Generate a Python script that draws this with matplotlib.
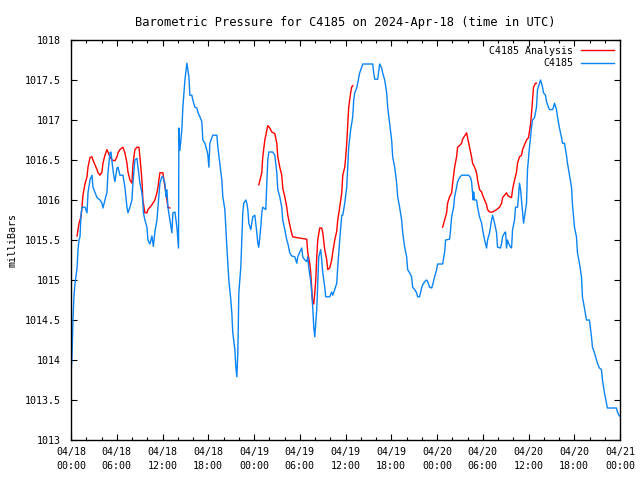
import numpy as np
import matplotlib
matplotlib.use("Agg")
import matplotlib.pyplot as plt
from matplotlib.ticker import MultipleLocator, FuncFormatter
from datetime import datetime, timedelta

# hours since 2024-04-18 00:00 UTC
START = datetime(2024, 4, 18, 0, 0)

# ---- station C4185 observations (hours, mb) ----
obs_hours = [
    0.00, 0.13, 0.26, 0.39, 0.52, 0.79, 0.92, 1.05, 1.18, 1.31, 1.44, 1.84, 2.10, 2.23,
    2.49, 2.75, 2.88, 3.41, 3.80, 4.06, 4.19, 4.45, 4.72, 4.85, 5.11, 5.24, 5.50, 5.63,
    5.76, 6.03, 6.16, 6.42, 6.81, 7.07, 7.34, 7.47, 7.73, 7.99, 8.12, 8.38, 8.65, 8.78,
    9.04, 9.30, 9.43, 9.50, 9.69, 9.96, 10.09, 10.35, 10.61, 10.80, 11.00, 11.27, 11.66,
    11.92, 12.05, 12.32, 12.45, 12.58, 12.71, 12.97, 13.23, 13.36, 13.63, 13.89, 14.02,
    14.10, 14.15, 14.28, 14.54, 14.67, 14.94, 15.20, 15.33, 15.46, 15.59, 15.85, 15.98,
    16.25, 16.51, 16.64, 16.90, 17.16, 17.29, 17.56, 17.82, 17.95, 18.08, 18.21, 18.47,
    18.60, 19.13, 19.26, 19.52, 19.78, 19.91, 20.18, 20.44, 20.57, 20.70, 20.96, 21.09,
    21.22, 21.49, 21.62, 21.75, 21.88, 22.01, 22.27, 22.40, 22.53, 22.66, 22.93, 23.06,
    23.19, 23.32, 23.58, 23.71, 23.84, 24.11, 24.37, 24.50, 24.63, 24.89, 25.02, 25.15,
    25.55, 25.68, 25.81, 25.94, 26.46, 26.73, 26.99, 27.12, 27.38, 27.64, 27.77, 28.04,
    28.30, 28.43, 28.69, 28.95, 29.35, 29.61, 29.74, 30.00, 30.26, 30.39, 30.66, 30.92,
    31.05, 31.18, 31.44, 31.57, 31.70, 31.84, 31.97, 32.10, 32.23, 32.36, 32.49, 32.75,
    32.88, 33.02, 33.28, 33.41, 33.93, 34.19, 34.32, 34.59, 34.85, 34.98, 35.24, 35.51,
    35.64, 35.90, 36.16, 36.29, 36.42, 36.68, 36.95, 37.08, 37.21, 37.47, 37.60, 37.86,
    38.13, 38.26, 39.57, 39.70, 39.83, 40.22, 40.48, 40.74, 40.87, 41.14, 41.40, 41.53,
    41.79, 42.05, 42.19, 42.45, 42.71, 42.84, 43.10, 43.36, 43.50, 43.76, 44.02, 44.15,
    44.41, 44.67, 44.81, 45.07, 45.33, 45.46, 45.72, 45.98, 46.12, 46.38, 46.64, 46.77,
    47.03, 47.30, 47.43, 47.69, 47.95, 48.08, 48.74, 49.00, 49.13, 49.65, 49.78, 49.92,
    50.18, 50.31, 50.57, 50.70, 50.96, 51.23, 52.14, 52.40, 52.53, 52.67, 52.75, 52.80,
    52.93, 53.19, 53.32, 53.58, 53.85, 53.98, 54.24, 54.50, 54.63, 54.89, 55.16, 55.29,
    55.55, 55.81, 55.94, 56.33, 56.47, 56.60, 56.86, 56.99, 57.12, 57.25, 57.38, 57.64,
    57.78, 57.91, 58.17, 58.30, 58.56, 58.69, 58.82, 58.96, 59.22, 59.35, 59.48, 59.74,
    59.87, 60.13, 60.40, 60.53, 60.79, 61.05, 61.18, 61.44, 61.58, 61.84, 61.97, 62.23,
    62.36, 62.62, 62.75, 63.15, 63.28, 63.41, 63.67, 63.80, 64.06, 64.33, 64.46, 64.72,
    64.98, 65.11, 65.37, 65.64, 65.77, 66.03, 66.29, 66.42, 66.68, 66.95, 67.08, 67.34,
    67.60, 67.99, 68.26, 68.39, 68.65, 68.91, 69.04, 69.30, 69.57, 69.70, 69.96, 70.22,
    70.35, 71.53, 71.66, 71.92,
]
obs_mb = [
    1013.80, 1014.05, 1014.50, 1014.80, 1014.95, 1015.15, 1015.38, 1015.50, 1015.54, 1015.81, 1015.91, 1015.91, 1015.84, 1016.09,
    1016.25, 1016.31, 1016.16, 1016.03, 1016.00, 1015.96, 1015.90, 1016.00, 1016.10, 1016.34, 1016.59, 1016.60, 1016.38, 1016.29,
    1016.23, 1016.40, 1016.41, 1016.31, 1016.31, 1016.16, 1015.91, 1015.84, 1015.91, 1016.00, 1016.21, 1016.50, 1016.52, 1016.41,
    1016.21, 1016.09, 1015.96, 1015.84, 1015.75, 1015.66, 1015.50, 1015.45, 1015.55, 1015.42, 1015.60, 1015.75, 1016.21,
    1016.29, 1016.29, 1016.21, 1016.04, 1016.13, 1015.91, 1015.75, 1015.59, 1015.84, 1015.85, 1015.66, 1015.50,
    1015.40, 1016.90, 1016.62, 1016.88, 1017.16, 1017.50, 1017.71, 1017.62, 1017.54, 1017.31, 1017.31, 1017.25,
    1017.16, 1017.15, 1017.10, 1017.04, 1016.98, 1016.75, 1016.71, 1016.62, 1016.56, 1016.41, 1016.71, 1016.78,
    1016.81, 1016.81, 1016.66, 1016.46, 1016.25, 1016.04, 1015.88, 1015.41, 1015.21, 1015.00, 1014.75, 1014.59,
    1014.34, 1014.13, 1013.91, 1013.79, 1014.09, 1014.84, 1015.16, 1015.50, 1015.84, 1015.96, 1016.00, 1015.96,
    1015.88, 1015.71, 1015.63, 1015.71, 1015.79, 1015.81, 1015.59, 1015.46, 1015.41, 1015.66, 1015.84, 1015.91,
    1015.88, 1016.21, 1016.50, 1016.60, 1016.60, 1016.56, 1016.34, 1016.13, 1016.04, 1015.91, 1015.75, 1015.63,
    1015.50, 1015.46, 1015.34, 1015.30, 1015.29, 1015.21, 1015.29, 1015.35, 1015.40, 1015.29, 1015.25, 1015.23,
    1015.29, 1015.16, 1014.98, 1014.84, 1014.66, 1014.41, 1014.29, 1014.46, 1014.63, 1014.96, 1015.29, 1015.38,
    1015.25, 1015.09, 1014.91, 1014.79, 1014.79, 1014.85, 1014.81, 1014.88, 1014.96, 1015.16, 1015.50, 1015.81,
    1015.81, 1015.96, 1016.16, 1016.41, 1016.66, 1016.88, 1017.04, 1017.25, 1017.34, 1017.40, 1017.46, 1017.59,
    1017.66, 1017.70, 1017.70, 1017.59, 1017.51, 1017.51, 1017.70, 1017.65, 1017.59, 1017.50, 1017.34, 1017.16,
    1016.96, 1016.75, 1016.54, 1016.41, 1016.21, 1016.04, 1015.91, 1015.75, 1015.59, 1015.41, 1015.29, 1015.13,
    1015.09, 1015.04, 1014.91, 1014.88, 1014.84, 1014.79, 1014.79, 1014.90, 1014.94, 1014.98, 1015.00, 1014.98,
    1014.91, 1014.90, 1014.94, 1015.04, 1015.13, 1015.20, 1015.20, 1015.35, 1015.50, 1015.51, 1015.63, 1015.79,
    1015.91, 1016.04, 1016.16, 1016.23, 1016.28, 1016.31, 1016.31, 1016.28, 1016.23, 1016.09, 1016.00, 1016.10,
    1016.00, 1016.00, 1015.91, 1015.79, 1015.71, 1015.63, 1015.50, 1015.40, 1015.50, 1015.59, 1015.75, 1015.81,
    1015.71, 1015.59, 1015.41, 1015.40, 1015.46, 1015.54, 1015.59, 1015.60, 1015.40, 1015.50, 1015.46, 1015.41,
    1015.40, 1015.63, 1015.75, 1015.91, 1015.91, 1016.04, 1016.21, 1016.13, 1015.84, 1015.71, 1015.79, 1015.96,
    1016.38, 1016.66, 1016.91, 1017.00, 1017.03, 1017.16, 1017.38, 1017.46, 1017.50, 1017.41, 1017.34, 1017.31,
    1017.23, 1017.16, 1017.13, 1017.13, 1017.16, 1017.21, 1017.13, 1017.04, 1016.90, 1016.78, 1016.71, 1016.71,
    1016.56, 1016.46, 1016.31, 1016.16, 1015.94, 1015.66, 1015.54, 1015.34, 1015.21, 1015.04, 1014.78, 1014.65,
    1014.50, 1014.50, 1014.29, 1014.16, 1014.09, 1014.00, 1013.96, 1013.90, 1013.88, 1013.75, 1013.59, 1013.46,
    1013.40, 1013.40, 1013.35, 1013.30,
]

# ---- analysis, three runs (gaps between them) ----
ana1_hours = [
    0.79, 0.92, 1.05, 1.31, 1.44, 1.57, 1.83, 2.10, 2.23, 2.49, 2.75, 2.88, 3.14, 3.41,
    3.54, 3.80, 4.06, 4.19, 4.45, 4.72, 4.85, 5.11, 5.37, 5.76, 6.03, 6.16, 6.42, 6.68,
    6.81, 7.07, 7.34, 7.47, 7.73, 7.99, 8.12, 8.38, 8.65, 8.91, 9.04, 9.30, 9.43, 9.69,
    9.96, 10.09, 10.35, 10.61, 10.74, 11.00, 11.27, 11.40, 11.66, 12.05, 12.18, 12.32,
    12.45, 12.58, 12.71, 12.97,
]
ana1_mb = [
    1015.55, 1015.63, 1015.71, 1015.79, 1015.91, 1016.06, 1016.20, 1016.29, 1016.41, 1016.53, 1016.54, 1016.50, 1016.44, 1016.38,
    1016.34, 1016.31, 1016.35, 1016.46, 1016.56, 1016.63, 1016.60, 1016.54, 1016.50, 1016.49, 1016.54, 1016.59, 1016.63, 1016.65,
    1016.66, 1016.59, 1016.46, 1016.35, 1016.25, 1016.21, 1016.44, 1016.63, 1016.66, 1016.66, 1016.54, 1016.25, 1016.00, 1015.84,
    1015.84, 1015.88, 1015.91, 1015.94, 1015.96, 1016.00, 1016.09, 1016.16, 1016.34, 1016.34, 1016.25, 1016.16,
    1016.09, 1016.00, 1015.91, 1015.90,
]
ana2_hours = [
    24.63, 25.02, 25.15, 25.42, 25.81, 26.07, 26.33, 26.73, 26.99, 27.12, 27.38, 27.64,
    27.77, 28.04, 28.30, 28.43, 28.69, 28.95, 29.08, 29.61, 30.92, 31.05, 31.31, 31.44,
    31.57, 31.70, 31.84, 31.97, 32.10, 32.23, 32.36, 32.62, 32.88, 33.02, 33.28, 33.54,
    33.67, 33.93, 34.19, 34.32, 34.59, 34.85, 34.98, 35.24, 35.51, 35.64, 35.90, 36.03,
    36.16, 36.29, 36.42, 36.68, 36.81, 36.95,
]
ana2_mb = [
    1016.19, 1016.34, 1016.54, 1016.75, 1016.93, 1016.90, 1016.85, 1016.83, 1016.71, 1016.54, 1016.41, 1016.31,
    1016.15, 1016.04, 1015.91, 1015.81, 1015.69, 1015.58, 1015.54, 1015.53, 1015.51, 1015.34, 1015.21, 1015.09,
    1014.91, 1014.71, 1014.70, 1014.84, 1015.00, 1015.29, 1015.50, 1015.65, 1015.65, 1015.59, 1015.38, 1015.25,
    1015.13, 1015.15, 1015.25, 1015.34, 1015.50, 1015.61, 1015.75, 1015.91, 1016.09, 1016.31, 1016.41, 1016.54,
    1016.71, 1016.94, 1017.16, 1017.34, 1017.41, 1017.43,
]
ana3_hours = [
    48.74, 49.00, 49.26, 49.39, 49.65, 49.92, 50.05, 50.31, 50.57, 50.70, 50.96, 51.23,
    51.36, 51.62, 51.88, 52.01, 52.27, 52.53, 52.67, 52.93, 53.19, 53.32, 53.58, 53.85,
    53.98, 54.24, 54.50, 54.63, 54.89, 55.29, 55.81, 56.20, 56.47, 56.60, 56.86, 57.12,
    57.25, 57.51, 57.78, 57.91, 58.17, 58.43, 58.56, 58.82, 59.09, 59.22, 59.48, 59.74,
    60.00, 60.26, 60.40, 60.53, 60.66, 60.92, 61.05,
]
ana3_mb = [
    1015.66, 1015.75, 1015.84, 1015.96, 1016.04, 1016.09, 1016.21, 1016.41, 1016.54, 1016.66, 1016.68, 1016.71,
    1016.76, 1016.80, 1016.84, 1016.78, 1016.66, 1016.54, 1016.46, 1016.41, 1016.34, 1016.25, 1016.13, 1016.10,
    1016.06, 1016.00, 1015.94, 1015.88, 1015.85, 1015.85, 1015.88, 1015.91, 1015.96, 1016.03, 1016.06, 1016.09,
    1016.06, 1016.04, 1016.03, 1016.13, 1016.25, 1016.35, 1016.46, 1016.54, 1016.56, 1016.63, 1016.69, 1016.75,
    1016.78, 1016.94, 1017.09, 1017.25, 1017.41, 1017.46, 1017.46,
]

COLOR_ANALYSIS = '#ff0000'
COLOR_OBS = '#0a84f5'
FONT = 'DejaVu Sans Mono'

plt.rcParams.update({
    'font.family': FONT,
    'font.size': 7.2,
})

fig = plt.figure(figsize=(6.4, 4.8), dpi=100)
ax = fig.add_axes([71 / 640, 40 / 480, 549 / 640, 400 / 480])

# join analysis runs with NaN breaks so gaps stay empty
ana_h = ana1_hours + [np.nan] + ana2_hours + [np.nan] + ana3_hours
ana_p = ana1_mb + [np.nan] + ana2_mb + [np.nan] + ana3_mb

ax.plot(ana_h, ana_p, color=COLOR_ANALYSIS, lw=1.0, label='C4185 Analysis')
ax.plot(obs_hours, obs_mb, color=COLOR_OBS, lw=1.0, label='C4185')

ax.set_xlim(0, 72)
ax.set_ylim(1013, 1018)

major = np.arange(0, 73, 6)
ax.set_xticks(major)
ax.set_xticklabels([(START + timedelta(hours=int(h))).strftime('%m/%d\n%H:%M') for h in major],
                   linespacing=1.5)
ax.xaxis.set_minor_locator(MultipleLocator(2))
ax.yaxis.set_major_locator(MultipleLocator(0.5))
ax.yaxis.set_major_formatter(FuncFormatter(lambda v, _: f'{v:g}'))

ax.tick_params(which='both', direction='in', top=True, right=True, width=0.8, colors='black')
ax.tick_params(which='major', length=4.5, pad=7)
ax.tick_params(which='minor', length=2.5)
ax.tick_params(axis='x', which='major', pad=5)
for s in ax.spines.values():
    s.set_linewidth(1.0)

ax.set_ylabel('milliBars')
ax.yaxis.set_label_coords(-0.097, 0.5)
ax.set_title('Barometric Pressure for C4185 on 2024-Apr-18 (time in UTC)', pad=10)

leg = ax.legend(loc='upper right', frameon=False, markerfirst=False, handlelength=3.3,
                borderaxespad=0.2, labelspacing=0.25, handletextpad=0.8)

fig.savefig('out.png', dpi=100)
